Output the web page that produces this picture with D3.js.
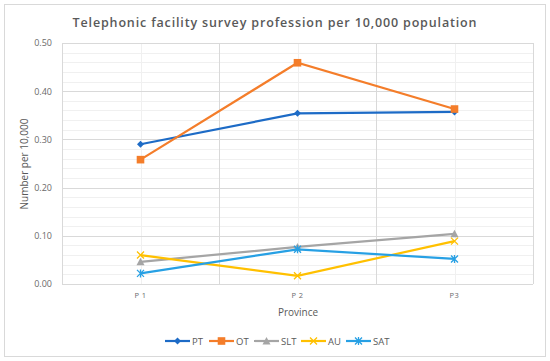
<!DOCTYPE html>
<html><head><meta charset="utf-8">
<script src="https://cdn.jsdelivr.net/npm/d3@7"></script>
<style>body{margin:0;background:#fff}svg{display:block;font-family:"Open Sans",sans-serif}</style>
</head><body><svg id="c" width="550" height="361"></svg>
<script>
const categories = ["P 1", "P 2", "P3"];
const seriesNames = ["PT", "OT", "SLT", "AU", "SAT"];
const PT  = [0.290, 0.354, 0.357];
const OT  = [0.258, 0.459, 0.363];
const SLT = [0.046, 0.077, 0.104];
const AU  = [0.060, 0.017, 0.089];
const SAT = [0.022, 0.072, 0.052];
const yTicks = [0, 0.1, 0.2, 0.3, 0.4, 0.5];
const colors = ["#1D6BC6", "#F47D2A", "#A5A5A5", "#FFC000", "#27A0E4"];
const markers = ["diamond", "square", "triangle", "x", "asterisk"];
const values = [PT, OT, SLT, AU, SAT];

const svg = d3.select("#c");
svg.append("rect").attr("x",4.5).attr("y",4.5).attr("width",541).attr("height",352)
  .attr("fill","#fff").attr("stroke","#d9d9d9");

const L=62, R=533, T=43, B=284;
const x = d3.scaleBand().domain(categories).range([L,R]);
const y = d3.scaleLinear().domain([0,0.5]).range([B,T]);

const minor = d3.range(0,0.5001,0.02).filter(v=>Math.round(v*100)%10!==0);
svg.append("g").selectAll("line").data(minor).join("line")
  .attr("x1",L).attr("x2",R).attr("y1",d=>Math.round(y(d))+0.5).attr("y2",d=>Math.round(y(d))+0.5)
  .attr("stroke","#f0f0f0");
svg.append("g").selectAll("line").data(categories).join("line")
  .attr("y1",T).attr("y2",B).attr("x1",d=>Math.round(x(d)+x.bandwidth()/2)+0.5).attr("x2",d=>Math.round(x(d)+x.bandwidth()/2)+0.5)
  .attr("stroke","#f0f0f0");
svg.append("g").selectAll("line").data(yTicks).join("line")
  .attr("x1",L).attr("x2",R).attr("y1",d=>Math.round(y(d))+0.5).attr("y2",d=>Math.round(y(d))+0.5)
  .attr("stroke","#d9d9d9");
const bounds = categories.map(c=>x(c)).concat([R]);
svg.append("g").selectAll("line").data(bounds).join("line")
  .attr("y1",T).attr("y2",B).attr("x1",d=>Math.round(d)+0.5).attr("x2",d=>Math.round(d)+0.5)
  .attr("stroke","#d9d9d9");

const yAxis = d3.axisLeft(y).tickValues(yTicks).tickFormat(d3.format(".2f")).tickSize(0).tickPadding(10);
const gy = svg.append("g").attr("transform",`translate(${L},0)`).call(yAxis);
gy.select(".domain").remove();
gy.selectAll("text").attr("fill","#6a6a6a").style("font-size","9px").style("font-family","'Open Sans',sans-serif");

const xAxis = d3.axisBottom(x).tickSize(0).tickPadding(9);
const gx = svg.append("g").attr("transform",`translate(0,${B})`).call(xAxis);
gx.select(".domain").remove();
gx.selectAll("text").attr("fill","#6a6a6a").style("font-size","7.5px").style("font-family","'Open Sans',sans-serif").style("letter-spacing","0.5px");

svg.append("text").attr("x",275).attr("y",27).attr("text-anchor","middle")
  .attr("fill","#595959").style("font-size","12.5px").style("font-weight","600").style("letter-spacing","0.85px")
  .text("Telephonic facility survey profession per 10,000 population");
svg.append("text").attr("x",298).attr("y",316).attr("text-anchor","middle")
  .attr("fill","#595959").style("font-size","10px").text("Province");
svg.append("text").attr("transform","translate(28,164) rotate(-90)").attr("text-anchor","middle")
  .attr("fill","#595959").style("font-size","10px").text("Number per 10,000");

function drawMarker(g, type, color){
  if(type==="diamond") g.append("path").attr("d","M0,-3.5L3.5,0L0,3.5L-3.5,0Z").attr("fill",color);
  else if(type==="square") g.append("rect").attr("x",-3.8).attr("y",-3.8).attr("width",7.6).attr("height",7.6).attr("fill",color);
  else if(type==="triangle") g.append("path").attr("d","M0,-4L4,3.5L-4,3.5Z").attr("fill",color);
  else if(type==="x") g.append("path").attr("d","M-3.5,-3.5L3.5,3.5M-3.5,3.5L3.5,-3.5").attr("stroke",color).attr("stroke-width",1.3);
  else g.append("path").attr("d","M-3.5,-3.5L3.5,3.5M-3.5,3.5L3.5,-3.5M0,-4L0,4").attr("stroke",color).attr("stroke-width",1.3);
}

const line = d3.line().x((d,i)=>x(categories[i])+x.bandwidth()/2).y(d=>y(d));
values.forEach((vals,si)=>{
  const g = svg.append("g");
  g.append("path").datum(vals).attr("d",line).attr("fill","none").attr("stroke",colors[si]).attr("stroke-width",2.2);
  vals.forEach((v,i)=>{
    const m = g.append("g").attr("transform",`translate(${x(categories[i])+x.bandwidth()/2},${y(v)})`);
    drawMarker(m, markers[si], colors[si]);
  });
});

const legX = [165, 209, 254, 301, 346];
seriesNames.forEach((n,i)=>{
  const g = svg.append("g").attr("transform",`translate(${legX[i]},341)`);
  g.append("line").attr("x1",0).attr("x2",25).attr("stroke",colors[i]).attr("stroke-width",2.2);
  const m = g.append("g").attr("transform","translate(12.5,0)");
  drawMarker(m, markers[i], colors[i]);
  g.append("text").attr("x",27).attr("y",3.5).attr("fill","#595959").style("font-size","9.5px").text(n);
});
</script></body></html>
